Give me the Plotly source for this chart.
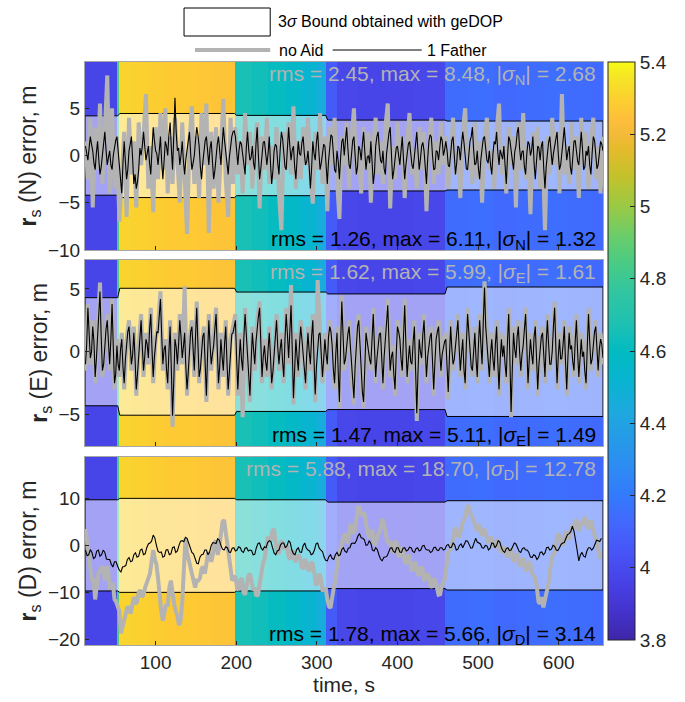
import plotly.graph_objects as go
from plotly.subplots import make_subplots

# ---------------- geDOP colour bands (band edges in s, geDOP per band) ----------------
gedop_edges = [12.4, 52, 54, 70, 90, 110, 130, 150, 170, 198, 220, 240, 260, 280, 300,
               311, 325, 350, 380, 420, 459, 490, 520, 550, 580, 610, 640, 655]
gedop_vals = [3.97, 4.85, 5.31, 5.30, 5.29, 5.28, 5.28, 5.27, 5.26, 4.66, 4.64, 4.61, 4.57,
              4.52, 4.46, 4.07, 3.98, 3.97, 3.97, 3.98, 4.14, 4.15, 4.13, 4.14, 4.15, 4.14, 4.13]

# ---------------- 3-sigma bounds obtained with geDOP (per time segment) ----------------
seg_edges = [12.4, 53, 198, 311, 459, 655]
bound_N = [4.2, 4.45, 4.25, 3.75, 3.65]
bound_E = [4.3, 5.05, 4.75, 4.6, 5.15]
bound_D = [9.7, 10.0, 9.7, 9.2, 9.5]

# ---------------- error series ----------------
# no-Aid N / E errors, 3 s apart
N_noaid = [
    1.5, -2.5, 4.0, -5.5, 3.0, -1.5, 5.5, -3.0, 2.5, 8.48, -4.0, 5.0, -3.5, 2.0,
    -7.0, -3.0, 2.5, -6.5, 4.0, -2.0, 1.5, -5.5, 3.5, -1.0, 2.0, 6.5, -3.5, 1.0, -6.0, 3.0,
    -2.5, 4.5, -1.5, 5.0, -4.0, 2.0, -3.0, 4.0, -0.5, -5.0, 3.5, -2.0, -8.3, 1.5, 5.2, -3.0,
    2.0, -4.5, 4.5, -1.0, 5.5, -8.2, 2.5, -3.5, 3.0, -5.0, 1.0, 6.0, -2.5, -6.5, 4.0, -3.0,
    3.0, -2.0, 1.5, -4.0, 4.5, -1.0, 2.5, -3.5, 1.0, 3.5, -5.6, 2.0, -1.5, 4.0, -3.0, 1.0,
    -2.5, 3.0, -4.0, -7.9, 2.5, -1.5, 3.5, -2.0, 5.2, -3.5, 1.5, -2.5, 3.0, -1.0, 4.0, -2.0,
    -5.1, 2.5, -1.5, 4.5, -3.0, 2.0,
    -5.9, 3.0, -1.0, 4.0, -2.5, -6.7, 2.0, -1.0, 3.5, -3.5, 1.5, 5.0, -2.0, 0.5, -4.0, 3.0,
    -1.5, 2.5, -5.0, 1.0, 4.0, -2.0, 1.5, -3.0, 3.0, 5.5, -5.6, 1.0, -2.5, 3.5, -1.0, 2.0,
    -4.5, 1.5, 4.5, -2.0, 0.5, -3.5, 3.0, -1.5, 2.5, -5.9, 1.0, 4.0, -3.0, 1.5, -2.0, 3.5, -1.0,
    2.0, -3.5, 1.0, 4.0, -2.0, 0.5, -4.5, 2.5, 5.0, -1.5, 1.0, -3.0, 3.5, -2.5, 1.5, -5.0,
    2.0, 4.0, -1.5, 0.5, -3.5, 2.5, 5.5, -2.0, 1.0, -4.0, 3.0, -1.0, 2.0, -5.5, 3.5, -1.5,
    4.5, -2.5, 1.0, -6.2, 2.5, -1.0, 3.0, -3.5, 1.5, -7.9, 2.0, -2.0, 4.0, -1.0, 2.5, -4.0,
    6.5, -2.0, 1.0, -3.0, 3.5, -1.5, 2.0, -4.5, 4.0, -1.0, 2.5, -3.5, 1.5, 4.0, -2.5, 1.0,
    -4.0, 2.0,
]
E_noaid = [
    -1.5, 3.8, -1.0, 2.5, -2.5, 1.5, 5.5, -2.0, 1.0, 3.0, -1.5, 4.2, -3.0, 1.0,
    -2.0, 1.5, -3.0, 1.0, 2.5, -1.5, 2.0, -3.5, 0.5, 3.0, -2.0, 1.5, -1.0, 3.5, -2.5, 1.0,
    2.0, 4.8, -1.5, 1.0, -3.0, 2.5, -5.99, 1.5, -1.5, 3.0, -1.0, 5.2, -3.5, 1.0, 2.5, -2.0,
    4.0, -2.5, 0.5, 2.0, -4.0, 3.0, -1.5, 1.0, 3.5, -3.0, 1.5, -2.0, 2.5, -3.5, 1.0, 2.0,
    3.0, -3.5, 1.5, -5.2, 3.5, -1.0, -4.0, 2.0, -1.5, 2.5, 4.0, -2.5, 1.0, -2.0, 2.0, -3.0,
    0.5, 3.0, -1.5, 1.5, -2.5, 3.5, -1.0, 5.3, -4.2, 1.5, -2.0, 2.5, 0.5, -3.0, 2.0, -1.5,
    3.0, -4.0, 5.7, 2.0, -2.5, 1.5,
    -1.5, 2.5, 1.0, -3.0, 2.0, -4.5, 4.5, -1.5, 1.0, 2.5, -2.0, -4.2, 1.5, 3.0, -2.5, -4.5,
    2.0, 0.5, -1.5, 3.5, -2.5, 1.0, 2.0, -3.0, 1.5, 4.2, -2.0, 0.5, -3.5, 2.5, 1.5, -2.0,
    4.2, -2.5, 1.0, -1.5, 2.5, -5.5, 1.5, -1.0, 3.0, -2.5, 1.0, 2.0, -3.5, 1.5, 2.5, -2.0, 1.0,
    1.5, -3.8, 2.5, -1.5, 1.0, 3.0, -2.0, 1.5, -3.0, 3.5, 0.5, -2.0, 2.0, -2.5, 3.0, -1.5,
    5.6, 1.0, -2.5, 1.5, -2.0, 2.5, -3.5, 1.5, 1.0, -2.5, 3.5, -5.2, 2.0, -1.0, 2.5, -2.0,
    1.0, 3.5, -3.0, 1.5, -1.5, 2.5, -3.5, 1.0, 2.0, -2.5, 3.0, -1.5, 0.5, 4.0, -3.0, 1.5,
    -1.0, 2.5, -3.5, 2.0, 1.0, -2.0, 3.0, -2.5, 1.5, 0.5, -3.0, 3.5, -1.5, 1.0, 2.5, -2.0,
    1.5, -1.0,
]

# 1-Father N / E errors, 1.5 s apart
N_father = [
    1.0, 0.2, -0.5, 0.8, 2.0, 1.2, 0.5, -0.8, -1.5, 0.3, 1.5, -0.4, -2.0, -1.2,
    0.0, 1.4, 2.5, 0.6, -1.0, -0.2, 0.5, -1.0, -1.5, 0.0, 1.0, 1.6, 2.0, 0.4,
    -1.0, -2.6, -4.0, -0.8, 1.5, -0.6, -2.5, -1.5, 0.5, 1.2, 2.0, -0.4, -3.0, -2.0,
    -3.5, -2.8, -1.5, 0.8, 0.0, 1.0, 2.5, 1.0, -0.5, 0.2, 1.0, -0.8, -2.0, 0.6,
    3.0, 1.6, 0.5, 0.2, -1.0, 0.4, 2.0, -0.6, -2.5, -0.6, 1.5, 1.0, 0.0, 2.2,
    3.5, 0.8, -1.5, 2.0, 6.11, 2.5, 0.5, 0.8, -1.0, 0.0, 1.5, -0.6, -2.0, -0.4,
    0.5, 1.8, 2.5, 0.2, -1.5, -0.8, 0.0, 1.6, 3.0, 2.2, 1.0, -1.2, -2.5, -0.8,
    0.5, 1.6, 2.0, 0.2, -1.0, 0.8, 1.5, -0.6, -2.5, -1.6, 0.0, 1.2, 2.0, 0.4,
    -1.0, 1.0, 3.0, 1.6, 0.5, -1.0, -2.0, -0.2, 1.0, 2.0, 2.5, 2.6,
    2.0, 0.2, -1.0, 0.6, 1.5, 1.2, 0.0, -1.4, -2.0, 0.8, 2.5, 0.6, -0.5, -0.2,
    1.0, -0.8, -1.5, 1.2, 3.0, 0.0, -2.5, -1.4, 0.5, 1.4, 1.5, -0.2, -1.0, 0.2,
    2.0, -0.8, -3.0, -1.6, 0.5, 1.2, 1.0, -0.8, -2.0, 0.6, 2.5, 1.8, 0.0, -1.2,
    -1.5, 1.0, 3.0, 1.0, -0.5, 0.6, 1.0, -1.2, -2.5, -0.4, 1.5, 0.2, 0.0, 1.4,
    2.0, 0.2, -1.0, -0.6, 0.5, -1.2, -3.5, -1.4, 1.5, 0.2, -0.5, 1.4, 2.5, 0.4,
    -1.5, -0.8, 0.5, 1.2, 1.0, -1.6,
    -3.0, -0.6, 1.0, 2.2, 2.0, -0.2, -1.5, -1.8, 0.5, -0.6, -2.5, -0.2, 1.5, 1.8,
    0.0, 1.6, 3.0, 0.8, -1.0, -1.4, 0.5, 1.6, 2.0, 0.2, -2.0, -1.2, 1.0, 0.6,
    -0.5, 1.2, 2.5, 0.4, -1.5, -0.2, 0.0, -0.8, 1.5, -0.6, -3.0, -1.8, 1.0, 2.0,
    2.5, 0.8, -0.5, -0.8, 0.5, -1.4, -2.0, 0.2, 1.5, 2.4, 3.0, 0.0, -2.5, -1.6,
    0.0, 0.8, 1.0, 0.0, -1.0, 0.6, 2.0, -0.4, -2.5, -1.0, 0.5, 1.2, 1.5, -0.2,
    -1.0, -1.4, 0.0, 1.2, 2.5, 0.4, -1.5, -0.4, 1.0, 1.4, 0.5, -1.2, -3.0, -0.4,
    1.5, 2.2, 2.0, 0.0, -1.5, -1.4, 0.5, 0.4, -0.5, 0.8, 2.0, 1.6, 0.0, 0.6,
    1.5, 0.6, -1.0, -1.2, 0.5, 1.6, 2.0, 0.0, -2.0, -0.8, 1.0, 0.8, -0.5, 1.2,
    2.5, 1.4, 0.0, -1.4, -1.5, 0.4, 1.5, 2.0, 3.0, 0.6, -1.0, -0.8, 0.5, -1.4,
    -2.5, -0.4, 1.0, 1.8, 2.0, 0.6, -0.5, -0.8, 0.5, -1.0, -2.0, 0.2, 1.5, 1.2,
    2.5, 0.4, -1.0, 0.6, 0.0, -0.4, 1.0, -1.6, -3.0, -0.2, 2.0, 1.6, 0.5, -0.6,
    -1.5, 0.4, 1.0, 2.4, 3.0, 0.8, -0.5, 0.4, 0.5, -1.2, -2.0, 0.2, 1.5, 1.2,
    0.0, 0.6, 2.0, -0.8, -2.5, -0.6, 1.0, 0.8, -0.5, 1.0, 1.5, -1.4, -3.5, -1.2,
    0.5, 1.4, 2.0, 0.4, -1.0, 0.2, 1.0, 2.0, 2.5, 0.2, -1.5, -1.0, 0.0, 1.6,
    3.0, 0.8, -0.5, 0.4, 1.0, -1.2, -2.0, -0.2, 1.5, 1.6, 0.5, -0.6, -1.0, 0.6,
    2.5, 0.8, -1.5, -1.2, 0.5, 0.0, 1.0, -1.0, -2.0, 0.2, 2.0, 1.6, 0.0, -1.4,
    -1.0, 0.6, 1.5, 1.2, 0.5,
]
E_father = [
    -1.0, 0.6, 3.5, 1.8, -0.5, 0.0, 2.0, 0.8, -2.0, -0.6, 1.0, 2.6, 4.8, 1.2,
    -1.5, -1.0, 0.5, 1.8, 2.5, 0.2, -1.0, 1.0, 3.8, 0.4, -2.5, -1.8, 0.5, -1.0,
    -1.5, 0.2, 1.0, -1.2, -2.5, -0.6, 0.5, 1.6, 2.0, 0.8, -1.0, -0.2, 1.5, -0.6,
    -3.0, -1.8, 0.0, 1.6, 2.5, 0.4, -1.5, -0.4, 1.0, 0.6, -0.5, 1.8, 3.0, 0.2,
    -2.0, -0.4, 0.5, 1.6, 1.5, 2.8, 4.2, 1.4, -1.0, 0.2, 0.5, -1.4, -2.5, 0.0,
    2.0, -1.4, -5.1, -2.4, 1.0, 0.4, -1.0, 0.6, 2.5, 1.2, -0.5, 0.4, 1.5, -1.2,
    -3.0, -1.6, 0.5, 1.6, 2.0, 0.0, -1.5, 1.2, 3.5, 0.6, -2.0, -1.4, 0.0, 1.2,
    1.5, -1.2, -3.5, -0.2, 2.5, 0.6, -1.0, -0.2, 0.5, 1.8, 3.0, 0.2, -2.5, -1.2,
    1.0, -0.4, -1.5, 0.6, 2.0, -0.8, -3.0, -1.6, 0.5, 1.4, 1.5, 2.2,
    2.5, -0.6, -3.0, -0.8, 1.0, -0.6, -1.5, 1.2, 3.0, 1.4, -0.5, -2.2, -3.5, -0.8,
    1.5, 0.2, -1.0, 0.8, 2.0, 2.8, 3.5, 0.6, -2.0, -0.4, 0.5, -0.8, -1.5, 0.2,
    1.5, -0.4, -2.5, -1.6, 0.0, 1.4, 2.5, 0.4, -1.0, 0.2, 1.0, -0.8, -2.0, 1.0,
    3.0, 1.4, -0.5, 1.6, 3.7, 0.2, -3.7, -1.4, 1.0, -0.4, -1.5, 0.6, 2.0, 1.0,
    0.0, -1.6, -2.5, -0.2, 1.5, 0.0, -1.0, 1.2, 2.5, -0.6, -3.4, -1.2, 0.5, 1.4,
    1.5, -0.4, -2.0, -0.6, 1.0, -0.2,
    -1.0, 1.2, 2.0, 1.6, 0.5, -1.4, -2.5, -0.2, 1.5, -1.6, -4.0, 0.6, 4.0, 1.4,
    -1.0, -0.6, 0.5, 1.4, 2.0, 0.6, -1.5, -2.8, -3.7, -1.2, 1.0, 2.0, 2.5, 0.2,
    -2.0, -3.2, -4.0, -1.0, 1.5, 0.8, 0.0, -0.6, -1.0, 1.2, 3.0, 0.4, -2.0, -0.6,
    0.5, 1.4, 1.5, -0.8, -2.5, -0.4, 1.0, 2.6, 3.7, 0.8, -1.5, -0.4, 0.0, -1.8,
    -3.0, -0.2, 2.0, 1.6, 1.0, -0.6, -1.5, 1.2, 3.7, 0.6, -2.0, -0.6, 0.5, -0.8,
    -1.0, 0.8, 2.0, -1.4, -4.9, -1.6, 1.0, 0.0, -0.5, 1.4, 2.5, 0.2, -2.0, -0.4,
    0.5, 1.2, 1.5, -1.0, -3.0, -0.8, 1.0, 1.6, 2.0, 0.0, -1.5, -0.2, 0.5, 0.8,
    1.0, -1.6, -3.2, -0.4, 2.0, 0.2, -1.0, -0.6, 0.5, 1.8, 2.5, 0.4, -1.5, -0.2,
    1.0, -1.4, -2.5, 0.6, 3.0, 1.6, 0.0, -1.2, -1.5, 0.4, 1.5, -0.6, -2.0, 0.6,
    2.5, 0.6, -1.0, 2.4, 5.11, 2.0, 0.5, -1.2, -2.0, -0.2, 1.0, -0.6, -1.5, 0.6,
    2.0, -0.8, -3.0, -0.6, 1.0, -0.4, 0.5, -1.0, -2.0, 0.8, 3.0, -0.6, -4.8, -1.4,
    1.5, 0.2, -0.5, 1.2, 2.0, 0.0, -1.5, -0.2, 0.5, 1.8, 3.0, 0.4, -2.5, -0.6,
    1.0, -0.2, -1.0, 1.2, 2.0, -0.4, -3.0, -1.0, 0.5, 1.2, 1.5, -0.6, -2.0, 0.6,
    2.5, 0.6, -1.0, -1.0, 0.0, 2.0, 3.5, 0.4, -2.5, -0.4, 1.0, -0.6, -0.5, 0.6,
    2.0, -0.8, -3.0, -0.4, 1.5, 0.2, 0.5, -0.8, -1.5, 0.8, 2.5, 0.0, -2.0, -0.6,
    1.0, -0.4, 0.0, -1.6, -2.5, 0.4, 3.0, 0.8, -1.0, -0.6, 0.5, 1.6, 2.0, 0.0,
    -1.5, 0.2, 1.0, 0.6, -0.5,
]

# D errors, 2 s apart
D_noaid = [
    3.5, 1.0, -2.0, -4.0, -7.5, -7.0, -11.5, -8.5, -6.0, -5.5,
    -4.5, -5.0, -7.5, -4.5, -5.0, -9.0, -9.0, -8.0, -11.5, -12.0,
    -13.0, -14.0, -18.7, -17.0, -16.0, -14.5, -13.0, -13.5, -14.5, -12.0,
    -11.0, -12.5, -12.0, -10.0, -9.5, -11.0, -10.5, -9.0, -8.0, -7.5,
    -6.0, -3.5, -1.0, -3.0, -4.0, -7.0, -11.0, -14.0, -16.0, -13.5,
    -12.5, -13.0, -9.0, -7.5, -10.5, -12.5, -14.0, -15.0, -17.0, -16.0,
    -12.0, -4.0, 1.5, -1.5, -3.0, -4.5, -6.5, -8.0, -9.0, -7.5,
    -7.5, -7.0, -5.0, -4.5, -6.0, -4.0, -1.5, -2.0, -3.5, -2.0,
    0.5, 1.0, -2.0, -0.5, 2.5, 5.0, 5.4, 2.5, 1.0, -1.5,
    -5.5, -7.5, -7.0, -6.5, -9.0, -9.5, -7.5, -7.0, -10.0, -10.5,
    -8.5, -6.5, -6.0, -8.0, -9.5, -9.0, -10.8, -10.5, -8.0, -5.5,
    -4.0, -3.0, -1.0, 1.5, 1.5, 1.0, 3.0, 3.5, 0.5, -1.5,
    -1.5, 0.5, 1.0, -0.5, -0.5, 0.0, -2.5, -3.0, -1.0, -1.5,
    -3.5, -3.0, -2.0, -2.5, -4.5, -5.0, -3.0, -3.5, -5.0, -5.5,
    -3.5, -4.0, -6.0, -8.5, -8.0, -6.0, -7.0, -9.5, -9.5, -9.0,
    -11.5, -13.0, -13.3, -10.5, -9.0, -7.5, -4.5, -2.0, -1.0, 0.5,
    2.0, 2.5, 0.5, 1.0, 4.0, 4.5, 2.5, 3.0, 6.0, 8.0,
    8.0, 6.5, 6.5, 7.0, 4.5, 2.5, 1.5, 3.0, 3.0, 0.5,
    0.0, 2.0, 2.5, 3.5, 5.6, 5.0, 3.0, 1.0, 0.5, 1.0,
    -1.0, -1.5, 1.0, 0.5, -2.0, -2.5, -0.5, -1.0, -3.5, -4.0,
    -2.0, -2.5, -5.0, -5.5, -3.5, -4.0, -6.0, -6.5, -4.5, -5.0,
    -7.5, -7.0, -6.0, -6.5, -8.5, -9.0, -7.0, -7.5, -9.0, -10.5,
    -10.4, -8.5, -8.0, -7.0, -4.0, -1.5, -1.0, -0.5, 1.5, 3.5,
    3.5, 2.0, 2.0, 4.0, 5.0, 5.5, 7.0, 8.5, 8.0, 6.5,
    6.0, 5.0, 3.5, 3.0, 4.5, 3.0, 2.0, 3.5, 3.0, 1.5,
    0.5, 1.5, 1.5, 0.0, -0.5, 1.0, 1.0, -1.0, -1.5, -0.5,
    -0.5, -2.0, -2.5, -1.0, -1.0, -3.0, -3.5, -2.0, -2.0, -4.0,
    -4.5, -3.0, -3.0, -5.5, -5.0, -3.5, -4.0, -6.0, -6.5, -7.0,
    -9.0, -12.0, -12.4, -11.0, -13.2, -11.0, -10.0, -8.5, -5.5, -3.0,
    -2.0, -1.5, 0.5, 2.5, 2.0, 0.5, 0.0, 2.0, 3.0, 1.5,
    1.5, 3.5, 4.0, 3.5, 5.5, 5.0, 3.0, 4.5, 4.5, 5.5,
    6.0, 4.0, 3.5, 5.0, 5.0, 3.0, 2.0, 1.0, -1.0, -2.5,
    -2.5,
]
D_father = [
    -1.0, -2.2, -2.0, -0.9, -1.5, -2.8, -2.5, -1.2, -1.0, -2.3,
    -2.0, -1.0, -1.5, -2.9, -3.0, -3.0, -4.0, -4.6, -3.5, -3.5,
    -4.5, -5.3, -5.66, -4.6, -4.5, -4.3, -3.0, -2.6, -3.5, -3.3,
    -2.0, -1.6, -2.5, -2.3, -1.0, -0.8, -2.0, -1.8, -0.5, 0.3,
    0.5, 0.9, 2.2, 1.6, 0.0, -1.3, -1.5, -1.4, -2.5, -2.3,
    -1.0, -0.9, -2.0, -1.8, -0.5, -0.3, -1.5, -1.2, 0.0, 0.9,
    1.0, 0.8, 1.7, 1.5, 0.5, -0.8, -1.5, -1.8, -3.0, -3.8,
    -3.9, -2.5, -2.0, -1.9, -1.0, -1.0, -2.0, -1.4, 0.0, 0.6,
    0.5, 0.4, 1.4, 1.1, 0.0, -0.8, -1.0, -0.3, -0.5, -1.4,
    -1.5, -0.6, -0.5, -1.2, -1.0, -0.3, -0.5, -1.3, -1.5, -0.6,
    -0.5, -1.2, -1.0, -1.1, -2.0, -1.9, -0.5, 0.4, 0.5, -0.6,
    -1.0, -0.3, -0.5, 0.6, 1.0, 0.8, -0.5, -1.6, -2.0, -1.2,
    -1.0, 0.1, 0.5, 0.5, -0.5, -0.1, 1.0, 0.6, -1.0, -1.8,
    -2.0, -0.9, -0.5, -1.4, -1.5, -0.1, 0.5, -0.6, -1.0, -1.2,
    -2.0, -1.8, -1.0, 0.3, 0.5, -0.6, -1.0, -1.3, -2.5, -3.2,
    -3.3, -2.4, -2.0, -2.8, -3.0, -2.0, -1.5, -2.2, -2.0, -0.9,
    -0.5, -1.3, -1.5, -0.6, -0.5, 0.4, 0.5, 0.4, 1.0, 2.0,
    2.5, 1.6, 1.5, 1.2, 0.0, 0.1, 1.0, 0.4, -1.0, -1.2,
    -0.5, -0.9, -2.0, -2.9, -3.3, -2.6, -2.5, -2.3, -1.5, -0.6,
    -0.5, -1.3, -1.5, -0.5, -0.5, -1.4, -1.5, -0.6, -0.5, -1.2,
    -1.0, -0.4, -0.5, -1.3, -1.5, -0.7, -0.5, -1.2, -1.0, -0.1,
    0.0, -0.8, -1.0, -1.0, -1.5, -1.3, -0.5, -0.4, -1.0, -1.1,
    -0.5, -0.5, -1.0, -0.8, 0.0, 0.2, -0.5, -0.4, 0.5, 0.1,
    -1.0, -0.8, 0.0, 0.3, -0.5, 0.1, 1.0, 0.9, 0.0, -0.6,
    -0.5, 0.8, 1.5, 0.7, 0.5, 0.3, -0.5, -0.6, 0.0, -0.1,
    -1.0, -0.6, 0.5, 0.4, -0.5, 0.0, 1.0, 0.7, -0.5, -1.2,
    -1.5, -0.7, -0.5, -1.1, -1.0, -0.1, 0.5, 0.3, -0.5, -1.3,
    -1.5, -0.7, -0.5, -1.0, -1.0, -1.5, -2.5, -2.6, -2.0, -2.2,
    -3.0, -2.6, -1.5, -1.4, -2.0, -1.6, -0.5, -0.4, -1.0, -0.8,
    0.0, -0.2, -1.0, -1.1, -0.5, 0.2, 0.5, 0.6, 1.5, 2.3,
    2.5, 2.9, 4.1, 3.0, 1.0, -1.6, -3.3, -2.0, -1.5, -2.3,
    -2.5, -1.2, -0.5, -0.5, -1.0, -0.6, 0.5, 1.1, 1.0, 0.8,
    1.5,
]

# sample times, s
t_noaid = [13 + 3 * i for i in range(len(N_noaid))]
t_father = [13 + 1.5 * i for i in range(len(N_father))]
t_down = [13 + 2 * i for i in range(len(D_noaid))]

# statistics printed in each panel: (rms, max, |sigma|)
stats_noaid = {"N": (2.45, 8.48, 2.68), "E": (1.62, 5.99, 1.61), "D": (5.88, 18.70, 12.78)}
stats_father = {"N": (1.26, 6.11, 1.32), "E": (1.47, 5.11, 1.49), "D": (1.78, 5.66, 3.14)}

x_range = [12.4, 655]
x_ticks = [100, 200, 300, 400, 500, 600]
colorbar_ticks = [3.8, 4.0, 4.2, 4.4, 4.6, 4.8, 5.0, 5.2, 5.4]

panels = [
    dict(key="N", tg=t_noaid, tb=t_father, gray=N_noaid, black=N_father, bound=bound_N,
         yrange=[-10, 9.9], yticks=[-10, -5, 0, 5]),
    dict(key="E", tg=t_noaid, tb=t_father, gray=E_noaid, black=E_father, bound=bound_E,
         yrange=[-7.5, 7.3], yticks=[-5, 0, 5]),
    dict(key="D", tg=t_down, tb=t_down, gray=D_noaid, black=D_father, bound=bound_D,
         yrange=[-21.2, 18.8], yticks=[-20, -10, 0, 10]),
]

# MATLAB parula colour map
parula = [
    [0.000, "#3e26a8"], [0.050, "#4433cd"], [0.100, "#4742e6"], [0.150, "#4754f6"],
    [0.200, "#4367fd"], [0.250, "#337afc"], [0.300, "#2d8cf3"], [0.350, "#259be7"],
    [0.400, "#1caade"], [0.450, "#08b4d0"], [0.500, "#02bbc2"], [0.550, "#20c1b1"],
    [0.600, "#30c5a1"], [0.650, "#48cb86"], [0.700, "#6bcd69"], [0.750, "#9ac945"],
    [0.800, "#c2c22c"], [0.850, "#e5bb2c"], [0.875, "#f3ba39"], [0.900, "#febe3c"],
    [0.925, "#fdca33"], [0.950, "#f9d82c"], [0.975, "#f5e626"], [1.000, "#f9fb15"],
]

FONT = "Liberation Sans, Arial, sans-serif"
TXT = "#262626"
GRAY = "#b3b3b3"

W, H = 685, 702
ML, MR, MT, MB = 85, 77, 62, 57
PW, PH = W - ML - MR, H - MT - MB


def paper(px, py):
    """Pixel position -> paper coordinates."""
    return (px - ML) / PW, (H - MB - py) / PH


def bound_polygon(sig, ramp=2.5):
    xs, ys = [], []
    for k, s in enumerate(sig):
        a = seg_edges[k] + (ramp if k > 0 else 0.0)
        b = seg_edges[k + 1]
        xs += [a, b]
        ys += [s, s]
    return xs + xs[::-1] + [xs[0]], ys + [-v for v in ys[::-1]] + [ys[0]]


fig = make_subplots(rows=3, cols=1, shared_xaxes=True)

domains = [(paper(0, 250)[1], 1.0), (paper(0, 446)[1], paper(0, 260)[1]), (0.0, paper(0, 457)[1])]

for i, p in enumerate(panels):
    r = i + 1
    y0, y1 = p["yrange"]
    fig.add_trace(go.Heatmap(x=gedop_edges, y=[y0, y1], z=[gedop_vals], coloraxis="coloraxis",
                             hoverinfo="skip", showscale=False), row=r, col=1)
    bx, by = bound_polygon(p["bound"])
    fig.add_trace(go.Scatter(x=bx, y=by, mode="lines", fill="toself",
                             fillcolor="rgba(255,255,255,0.5)",
                             line=dict(color="black", width=1), showlegend=False,
                             hoverinfo="skip"), row=r, col=1)
    fig.add_trace(go.Scatter(x=p["tg"], y=p["gray"], mode="lines",
                             line=dict(color=GRAY, width=4), showlegend=False), row=r, col=1)
    fig.add_trace(go.Scatter(x=p["tb"], y=p["black"], mode="lines",
                             line=dict(color="black", width=1.1), showlegend=False), row=r, col=1)

    ax = "" if r == 1 else str(r)
    fig.update_yaxes(row=r, col=1, range=[y0, y1], tickvals=p["yticks"],
                     domain=list(domains[i]), ticks="inside", ticklen=4, tickcolor=TXT,
                     showline=True, linecolor="#a6a6a6", linewidth=1, mirror=True,
                     showgrid=False, zeroline=False,
                     tickfont=dict(size=19, color=TXT, family=FONT),
                     title=dict(text=f"<b>r</b><sub>s</sub> ({p['key']}) error, m",
                                font=dict(size=23, color=TXT, family=FONT), standoff=4))
    fig.update_xaxes(row=r, col=1, range=x_range, tickvals=x_ticks, ticks="inside",
                     ticklen=4, tickcolor=TXT, showline=True, linecolor="#a6a6a6",
                     linewidth=1, mirror=True, showgrid=False, zeroline=False,
                     showticklabels=(r == 3),
                     tickfont=dict(size=19, color=TXT, family=FONT))

    k = p["key"]
    g = stats_noaid[k]
    b = stats_father[k]
    fig.add_annotation(xref=f"x{ax} domain", yref=f"y{ax} domain", x=0.99, y=1.01,
                       xanchor="right", yanchor="top", showarrow=False,
                       text=f"rms = {g[0]:.2f}, max = {g[1]:.2f}, |<i>σ</i><sub>{k}</sub>| = {g[2]:.2f}",
                       font=dict(size=21, color=GRAY, family=FONT))
    fig.add_annotation(xref=f"x{ax} domain", yref=f"y{ax} domain", x=0.99, y=-0.025,
                       xanchor="right", yanchor="bottom", showarrow=False,
                       text=f"rms = {b[0]:.2f}, max = {b[1]:.2f}, |<i>σ</i><sub>{k}</sub>| = {b[2]:.2f}",
                       font=dict(size=21, color="black", family=FONT))

fig.update_xaxes(row=3, col=1, title=dict(text="time, s", standoff=4,
                                          font=dict(size=21, color=TXT, family=FONT)))

# legend drawn above the panels
bx0, by0 = paper(185, 8)
bx1, by1 = paper(272, 36)
fig.add_shape(type="rect", xref="paper", yref="paper", x0=bx0, y0=by1, x1=bx1, y1=by0,
              line=dict(color="black", width=1), fillcolor="white")
lx, ly = paper(278, 22)
fig.add_annotation(xref="paper", yref="paper", x=lx, y=ly, xanchor="left", yanchor="middle",
                   showarrow=False, text="3<i>σ</i> Bound obtained with geDOP",
                   font=dict(size=16, color="black", family=FONT))
gx0, gy = paper(196, 50)
gx1, _ = paper(272, 50)
fig.add_shape(type="line", xref="paper", yref="paper", x0=gx0, y0=gy, x1=gx1, y1=gy,
              line=dict(color=GRAY, width=4))
tx, _ = paper(279, 50)
fig.add_annotation(xref="paper", yref="paper", x=tx, y=gy, xanchor="left", yanchor="middle",
                   showarrow=False, text="no Aid", font=dict(size=16, color="black", family=FONT))
kx0, _ = paper(335, 50)
kx1, _ = paper(425, 50)
fig.add_shape(type="line", xref="paper", yref="paper", x0=kx0, y0=gy, x1=kx1, y1=gy,
              line=dict(color="black", width=1))
fx, _ = paper(428, 50)
fig.add_annotation(xref="paper", yref="paper", x=fx, y=gy, xanchor="left", yanchor="middle",
                   showarrow=False, text="1 Father", font=dict(size=16, color="black", family=FONT))

cbx, _ = paper(613, 0)
_, cby0 = paper(0, 640)
fig.update_layout(
    width=W, height=H,
    margin=dict(l=ML, r=MR, t=MT, b=MB),
    paper_bgcolor="white", plot_bgcolor="white",
    font=dict(family=FONT, color=TXT),
    showlegend=False,
    coloraxis=dict(
        colorscale=parula, cmin=3.8, cmax=5.4,
        colorbar=dict(x=cbx, xanchor="left", xpad=0, ypad=0, thickness=27,
                      y=cby0, yanchor="bottom", len=1.0 - cby0, lenmode="fraction",
                      outlinewidth=1, outlinecolor=TXT, ticks="inside", ticklen=5,
                      tickcolor=TXT, tickvals=colorbar_ticks,
                      ticktext=[f"{v:g}" for v in colorbar_ticks],
                      tickfont=dict(size=19, color=TXT, family=FONT)),
    ),
)

fig.write_html("out.html")
